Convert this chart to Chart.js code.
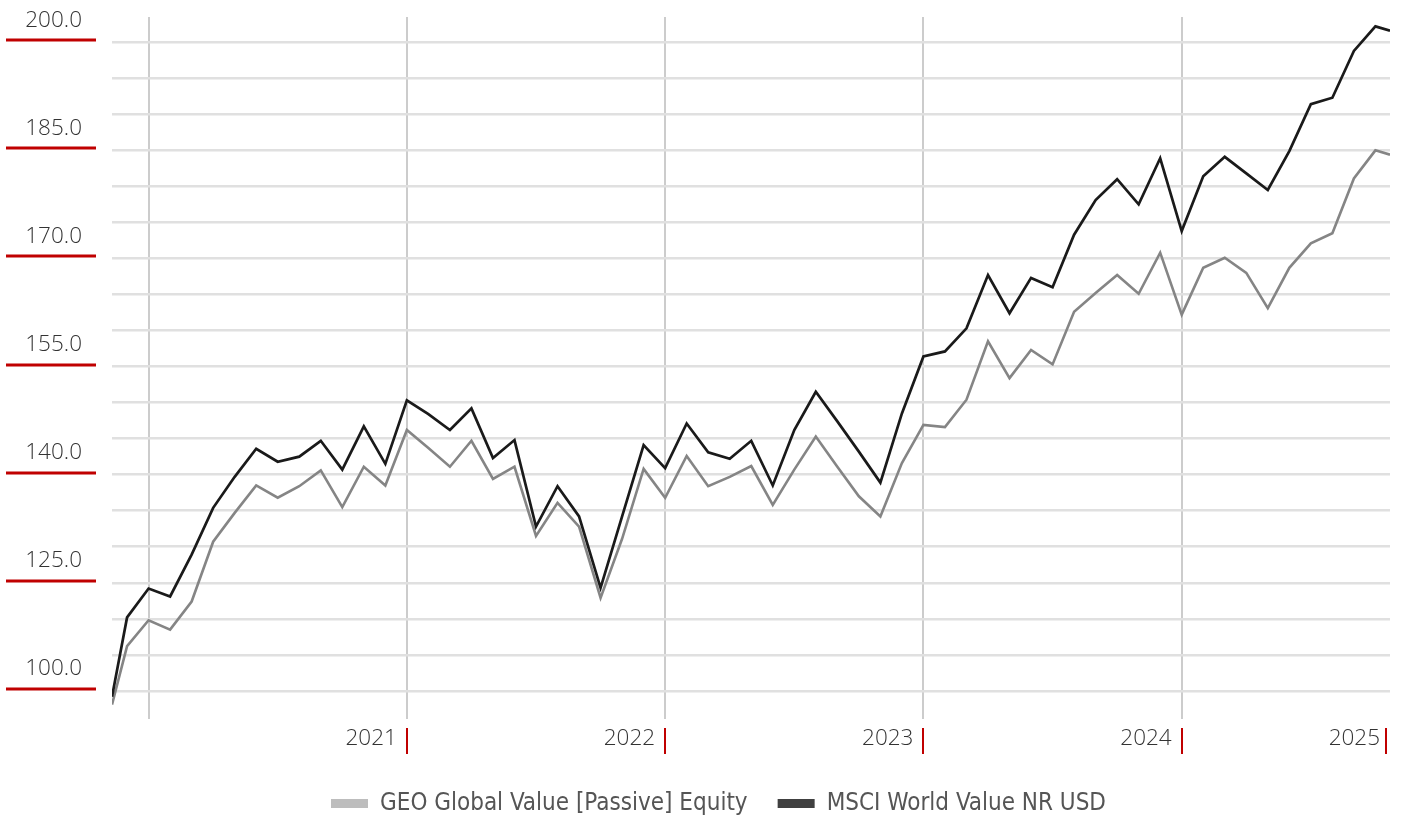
<!DOCTYPE html>
<html>
<head>
<meta charset="utf-8">
<script src="https://cdn.jsdelivr.net/npm/chart.js@4.4.1/dist/chart.umd.min.js"></script>
<style>
  html, body { margin: 0; padding: 0; background: #fff; }
  #wrap { width: 1401px; height: 822px; }
</style>
</head>
<body>
<div id="wrap"><canvas id="perfChart"></canvas></div>
<script>
// Dates of the points (inception, then month ends, then last valuation)
const dates = [
    '2019-11-09', '2019-11-30', '2019-12-31',
    '2020-01-31', '2020-02-29', '2020-03-31', '2020-04-30', '2020-05-31', '2020-06-30',
    '2020-07-31', '2020-08-31', '2020-09-30', '2020-10-31', '2020-11-30', '2020-12-31',
    '2021-01-31', '2021-02-28', '2021-03-31', '2021-04-30', '2021-05-31', '2021-06-30',
    '2021-07-31', '2021-08-31', '2021-09-30', '2021-10-31', '2021-11-30', '2021-12-31',
    '2022-01-31', '2022-02-28', '2022-03-31', '2022-04-30', '2022-05-31', '2022-06-30',
    '2022-07-31', '2022-08-31', '2022-09-30', '2022-10-31', '2022-11-30', '2022-12-31',
    '2023-01-31', '2023-02-28', '2023-03-31', '2023-04-30', '2023-05-31', '2023-06-30',
    '2023-07-31', '2023-08-31', '2023-09-30', '2023-10-31', '2023-11-30', '2023-12-31',
    '2024-01-31', '2024-02-29', '2024-03-31', '2024-04-30', '2024-05-31', '2024-06-30',
    '2024-07-31', '2024-08-31', '2024-09-30', '2024-10-21'
];

// GEO Global Value [Passive] Equity
const fundValues = [
    108.1, 116.2, 119.8,
    118.5, 122.4, 130.7, 134.7, 138.5, 136.8, 138.4, 140.6, 135.5, 141.1, 138.5, 146.2,
    143.7, 141.1, 144.7, 139.4, 141.1, 131.5, 136.1, 132.8, 122.9, 131.1, 140.8, 136.8,
    142.6, 138.4, 139.7, 141.2, 135.8, 140.7, 145.3, 141.1, 137.0, 134.2, 141.6, 146.9,
    146.6, 150.4, 158.5, 153.4, 157.3, 155.3, 162.6, 165.2, 167.7, 165.1, 170.8, 162.2,
    168.7, 170.1, 168.0, 163.1, 168.7, 172.1, 173.5, 181.1, 185.0, 184.4
];

// MSCI World Value NR USD
const indexValues = [
    109.2, 120.2, 124.2,
    123.1, 128.9, 135.4, 139.7, 143.6, 141.8, 142.5, 144.7, 140.7, 146.7, 141.5, 150.3,
    148.4, 146.2, 149.2, 142.3, 144.8, 132.8, 138.4, 134.2, 124.3, 134.2, 144.1, 140.9,
    147.1, 143.1, 142.2, 144.7, 138.5, 146.2, 151.5, 147.4, 143.2, 138.9, 148.5, 156.4,
    157.1, 160.3, 167.7, 162.4, 167.3, 166.0, 173.3, 178.1, 181.0, 177.5, 183.9, 173.8,
    181.4, 184.1, 181.8, 179.5, 184.9, 191.4, 192.3, 198.8, 202.2, 201.6
];

// Y axis
const yMin = 106.1;
const yMax = 203.5;
const yGridValues = [110, 115, 120, 125, 130, 135, 140, 145, 150, 155, 160, 165, 170, 175, 180, 185, 190, 195, 200];
const yLabelValues = [110, 125, 140, 155, 170, 185, 200];
const yLabelTexts = ['100.0', '125.0', '140.0', '155.0', '170.0', '185.0', '200.0'];

// X axis
const xTickDates = ['2019-12-31', '2020-12-31', '2021-12-31', '2022-12-31', '2023-12-31', '2024-10-21'];
const xTickLabels = ['', '2021', '2022', '2023', '2024', '2025'];

const seriesNames = ['GEO Global Value [Passive] Equity', 'MSCI World Value NR USD'];

// months since 1 Jan 2020 (fraction of month from the day)
function monthIndex(d) {
    const [y, m, day] = d.split('-').map(Number);
    const dim = new Date(y, m, 0).getDate();
    return (y - 2020) * 12 + (m - 1) + day / dim;
}

const tickFont = { family: "'Open Sans', sans-serif", size: 22.5, weight: 300 };
const RED = '#c00000';
const legendShift = 16;

// Red marks next to the axis labels
const redMarks = {
    id: 'redMarks',
    afterLayout(chart) {
        // legend sits a bit right of the canvas centre
        if (chart.legend) {
            chart.legend.left += legendShift;
            chart.legend.right += legendShift;
        }
    },
    afterDraw(chart) {
        const { ctx, chartArea, scales } = chart;
        ctx.save();
        ctx.strokeStyle = RED;
        ctx.lineWidth = 3;
        yLabelValues.forEach(v => {
            const y = Math.round(scales.y.getPixelForValue(v)) - 2;
            ctx.beginPath();
            ctx.moveTo(chartArea.left - 106, y);
            ctx.lineTo(chartArea.left - 16, y);
            ctx.stroke();
        });
        ctx.lineWidth = 2;
        xTickDates.forEach((d, i) => {
            if (!xTickLabels[i]) return;
            const x = Math.min(Math.round(scales.x.getPixelForValue(monthIndex(d))), chartArea.right - 4);
            ctx.beginPath();
            ctx.moveTo(x, chartArea.bottom + 9);
            ctx.lineTo(x, chartArea.bottom + 35);
            ctx.stroke();
        });
        ctx.restore();
    }
};

function makeSeries(values) {
    return dates.map((d, i) => ({ x: monthIndex(d), y: values[i] }));
}

new Chart(document.getElementById('perfChart'), {
    type: 'line',
    data: {
        datasets: [
            {
                label: seriesNames[0],
                data: makeSeries(fundValues),
                borderColor: '#858585',
                backgroundColor: '#bdbdbd',
                borderWidth: 2.6,
                pointRadius: 0,
                tension: 0,
                order: 1
            },
            {
                label: seriesNames[1],
                data: makeSeries(indexValues),
                borderColor: '#1a1a1a',
                backgroundColor: '#404040',
                borderWidth: 2.7,
                pointRadius: 0,
                tension: 0,
                order: 0
            }
        ]
    },
    options: {
        responsive: true,
        maintainAspectRatio: false,
        animation: false,
        events: [],
        layout: { padding: { left: 15, right: 11, top: 17, bottom: 0 } },
        plugins: {
            tooltip: { enabled: false },
            legend: {
                position: 'bottom',
                maxHeight: 60.5,
                labels: {
                    boxWidth: 37,
                    boxHeight: 9,
                    padding: 30,
                    color: '#555555',
                    font: { family: "'DejaVu Sans Condensed', sans-serif", size: 24 },
                    sort: (a, b) => a.datasetIndex - b.datasetIndex,
                    generateLabels: chart => Chart.defaults.plugins.legend.labels.generateLabels(chart)
                        .map(l => ({ ...l, strokeStyle: l.fillStyle, lineWidth: 0 }))
                }
            }
        },
        scales: {
            x: {
                type: 'linear',
                min: monthIndex(dates[0]),
                max: monthIndex(dates[dates.length - 1]),
                afterBuildTicks: s => { s.ticks = xTickDates.map(d => ({ value: monthIndex(d) })); },
                afterFit: s => { s.height = 42.5; s.paddingLeft = 0; s.paddingRight = 0; },
                border: { display: false },
                grid: {
                    color: c => (c.index === xTickDates.length - 1 ? 'rgba(0,0,0,0)' : '#cccccc'),
                    lineWidth: 2,
                    drawTicks: false
                },
                ticks: {
                    callback: (v, i) => xTickLabels[i],
                    align: 'end',
                    labelOffset: -10,
                    padding: 6,
                    maxRotation: 0,
                    autoSkip: false,
                    color: '#333333',
                    font: tickFont
                }
            },
            y: {
                min: yMin,
                max: yMax,
                afterBuildTicks: s => { s.ticks = yGridValues.map(v => ({ value: v })); },
                afterFit: s => { s.width = 97; s.paddingTop = 0; s.paddingBottom = 0; },
                border: { display: false },
                grid: { color: '#e0e0e0', lineWidth: 2.5, drawTicks: false },
                ticks: {
                    callback: v => {
                        const i = yLabelValues.indexOf(v);
                        return i >= 0 ? yLabelTexts[i] : '';
                    },
                    crossAlign: 'near',
                    padding: 30,
                    labelOffset: -22,
                    autoSkip: false,
                    color: '#333333',
                    font: tickFont
                }
            }
        }
    },
    plugins: [redMarks]
});
</script>
</body>
</html>
